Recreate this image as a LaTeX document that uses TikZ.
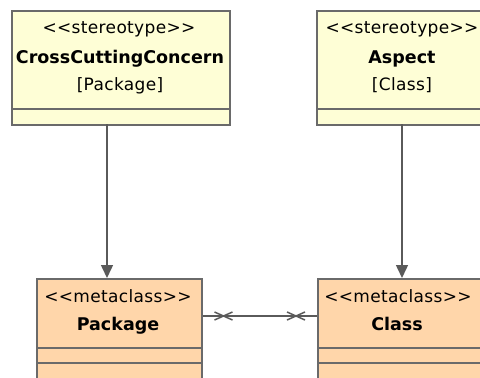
\documentclass[tikz,border=0pt]{standalone}
\usepackage{fontspec}
\setmainfont[Ligatures=NoCommon]{DejaVu Sans}
\usetikzlibrary{arrows.meta}
\definecolor{lineg}{HTML}{5A5A5A}
\definecolor{boxg}{HTML}{6A6A6A}
\definecolor{ylw}{HTML}{FEFED6}
\definecolor{peach}{HTML}{FFD6AA}
\newcommand{\lt}{\symbol{60}}
\newcommand{\gt}{\symbol{62}}
\tikzset{
  ubox/.style={draw=boxg, line width=1.5pt, anchor=north west, inner sep=0pt},
  topbox/.style={ubox, fill=ylw},
  botbox/.style={ubox, fill=peach},
  lbl/.style={inner sep=0pt, anchor=base, font=\fontsize{17}{19}\selectfont\addfontfeature{LetterSpace=2}, text=black},
  blbl/.style={lbl, font=\fontsize{17.5}{19}\selectfont\bfseries},
  divider/.style={draw=boxg, line width=1.5pt},
  arr/.style={draw=lineg, line width=1.5pt, -{Triangle[length=13pt,width=12pt]}},
  assoc/.style={draw=lineg, line width=1.5pt},
  xmark/.style={draw=lineg, line width=1.5pt}
}
\begin{document}
\begin{tikzpicture}[x=1pt,y=-1pt]
\useasboundingbox (0,0) rectangle (480,378);
\clip (0,0) rectangle (480,378);
% top boxes
\node[topbox, minimum width=218pt, minimum height=114pt] (ccc) at (11,10) {};
\draw[divider] (ccc.west |- 0,109) -- (ccc.east |- 0,109);
\node[lbl] (ccc1) at (119,33) {\lt\lt stereotype\gt\gt};
\node[blbl] (ccc2) at (120,63) {CrossCuttingConcern};
\node[lbl] (ccc3) at (120,90) {[Package]};

\node[topbox, minimum width=172pt, minimum height=114pt] (asp) at (316,10) {};
\draw[divider] (asp.west |- 0,109) -- (asp.east |- 0,109);
\node[lbl] (asp1) at (402,33) {\lt\lt stereotype\gt\gt};
\node[blbl] (asp2) at (402,63) {Aspect};
\node[lbl] (asp3) at (402,90) {[Class]};

% bottom boxes
\node[botbox, minimum width=165pt, minimum height=130pt] (pkg) at (36,278) {};
\draw[divider] (pkg.west |- 0,348) -- (pkg.east |- 0,348);
\draw[divider] (pkg.west |- 0,363) -- (pkg.east |- 0,363);
\node[lbl] (pkg1) at (118,302) {\lt\lt metaclass\gt\gt};
\node[blbl] (pkg2) at (118,330) {Package};

\node[botbox, minimum width=170pt, minimum height=130pt] (cls) at (317,278) {};
\draw[divider] (cls.west |- 0,348) -- (cls.east |- 0,348);
\draw[divider] (cls.west |- 0,363) -- (cls.east |- 0,363);
\node[lbl] (cls1) at (398,302) {\lt\lt metaclass\gt\gt};
\node[blbl] (cls2) at (397,330) {Class};

% connectors
\coordinate (a1) at (107,124);
\draw[arr] (a1) -- (a1 |- pkg.north);
\coordinate (a2) at (402,124);
\draw[arr] (a2) -- (a2 |- cls.north);

\coordinate (h1) at (pkg.east |- 0,316);
\coordinate (h2) at (cls.west |- 0,316);
\draw[assoc] (h1) -- (h2);
\draw[xmark] ([shift={(12,-4)}]h1) -- ([shift={(30,4)}]h1);
\draw[xmark] ([shift={(12,4)}]h1) -- ([shift={(30,-4)}]h1);
\draw[xmark] ([shift={(-12,-4)}]h2) -- ([shift={(-30,4)}]h2);
\draw[xmark] ([shift={(-12,4)}]h2) -- ([shift={(-30,-4)}]h2);
\end{tikzpicture}
\end{document}
